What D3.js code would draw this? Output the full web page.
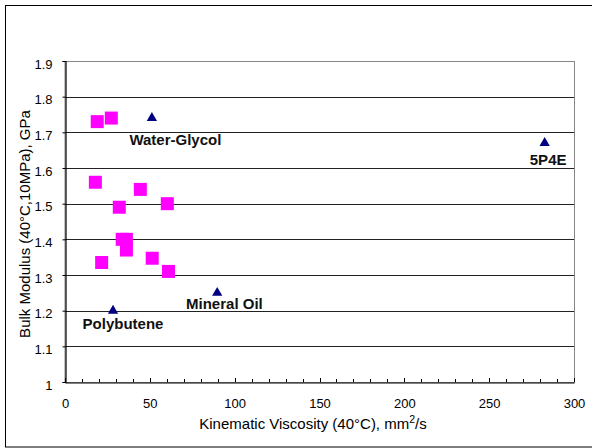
<!DOCTYPE html>
<html><head><meta charset="utf-8">
<script src="https://cdn.jsdelivr.net/npm/d3@7"></script>
<style>body{margin:0;background:#fff;} svg{display:block;font-family:"Liberation Sans",Arial,sans-serif;}</style>
</head><body>
<svg id="c" width="592" height="448"></svg>
<script>
// Data
const squareX = [19, 27.3, 17.9, 44.4, 32, 60.3, 33.7, 36.2, 36.2, 21.6, 51.4, 61];
const squareY = [1.73, 1.74, 1.56, 1.54, 1.49, 1.50, 1.40, 1.40, 1.37, 1.335, 1.347, 1.31];
const fluidNames = ["Water-Glycol", "Mineral Oil", "Polybutene", "5P4E"];
const fluidX = [51.2, 89.7, 28.3, 282.7];
const fluidY = [1.74, 1.25, 1.20, 1.67];
const xTicks = [0, 50, 100, 150, 200, 250, 300];
const yTicks = [1, 1.1, 1.2, 1.3, 1.4, 1.5, 1.6, 1.7, 1.8, 1.9];

const labelOffsets = [[23.5, 27], [7.2, 16], [10, 18.3], [3.5, 21.7]];

const svg = d3.select("#c");
const L = 65, R = 574, T = 61, B = 382;
const x = d3.scaleLinear().domain([0, 300]).range([L, R]);
const y = d3.scaleLinear().domain([1, 1.9]).range([B, T]);

// outer frame
svg.append("rect").attr("x", 5.5).attr("y", 5.5).attr("width", 600).attr("height", 441.5)
  .attr("fill", "none").attr("stroke", "#000").attr("stroke-width", 1);

// plot area border (gray)
svg.append("rect").attr("x", L).attr("y", T + 0.5).attr("width", R - L + 0.5).attr("height", B - T)
  .attr("fill", "none").attr("stroke", "#888").attr("stroke-width", 1);

// gridlines
svg.append("g").selectAll("line").data(yTicks.filter(d => d > 1)).join("line")
  .attr("x1", L).attr("x2", R)
  .attr("y1", d => Math.round(y(d)) + 0.5).attr("y2", d => Math.round(y(d)) + 0.5)
  .attr("stroke", d => d === 1.9 ? "#888" : "#222").attr("stroke-width", 1);

// x axis
const xAxis = svg.append("g").attr("transform", `translate(0,${B + 0.5})`)
  .call(d3.axisBottom(x).tickValues(xTicks).tickSize(0).tickPadding(16).tickFormat(d3.format("d")));
xAxis.select(".domain").attr("stroke", "#000").attr("stroke-width", 1.2);
xAxis.selectAll("text").attr("font-size", 13).attr("fill", "#000").attr("font-family", "Liberation Sans, Arial");
// minor / major ticks pointing up
svg.append("g").selectAll("line").data(d3.range(0, 301, 10)).join("line")
  .attr("x1", d => Math.round(x(d)) + 0.5).attr("x2", d => Math.round(x(d)) + 0.5)
  .attr("y1", B).attr("y2", d => d % 50 === 0 ? B - 4 : B - 3)
  .attr("stroke", "#000").attr("stroke-width", 1);

// y axis
const yAxis = svg.append("g").attr("transform", `translate(${L + 0.5},0)`)
  .call(d3.axisLeft(y).tickValues(yTicks).tickSize(3).tickPadding(10).tickFormat(d => d === 1 ? "1" : d3.format(".1f")(d)));
yAxis.select(".domain").attr("stroke", "#000").attr("stroke-width", 1.2);
yAxis.selectAll(".tick line").attr("stroke", "#000");
yAxis.selectAll("text").attr("font-size", 13).attr("fill", "#000").attr("dy", "0.56em").attr("font-family", "Liberation Sans, Arial");

// squares
const sq = d3.symbol().type(d3.symbolSquare).size(169);
svg.append("g").selectAll("path").data(squareX.map((d, i) => [d, squareY[i]])).join("path")
  .attr("d", sq).attr("transform", d => `translate(${x(d[0])},${y(d[1])})`)
  .attr("fill", "#FF00FF");

// triangles
const tri = d3.symbol().type(d3.symbolTriangle).size(46);
svg.append("g").selectAll("path").data(fluidX.map((d, i) => [d, fluidY[i]])).join("path")
  .attr("d", tri).attr("transform", d => `translate(${x(d[0])},${y(d[1])})`)
  .attr("fill", "#000080");

// labels
svg.append("g").selectAll("text").data(fluidNames).join("text")
  .attr("x", (d, i) => x(fluidX[i]) + labelOffsets[i][0])
  .attr("y", (d, i) => y(fluidY[i]) + labelOffsets[i][1])
  .attr("text-anchor", "middle").attr("font-weight", "bold").attr("font-size", 15)
  .attr("fill", "#111").text(d => d);

// axis titles
const xt = svg.append("text").attr("x", 313).attr("y", 428.5).attr("text-anchor", "middle")
  .attr("font-size", 15).attr("fill", "#000");
xt.append("tspan").text("Kinematic Viscosity (40\u00B0C), mm");
xt.append("tspan").attr("dy", -6).attr("font-size", 10.5).text("2");
xt.append("tspan").attr("dy", 6).text("/s");

svg.append("text").attr("transform", "translate(30,224) rotate(-90)").attr("text-anchor", "middle")
  .attr("font-size", 15).attr("fill", "#000").text("Bulk Modulus (40\u00B0C,10MPa), GPa");
</script>
</body></html>
